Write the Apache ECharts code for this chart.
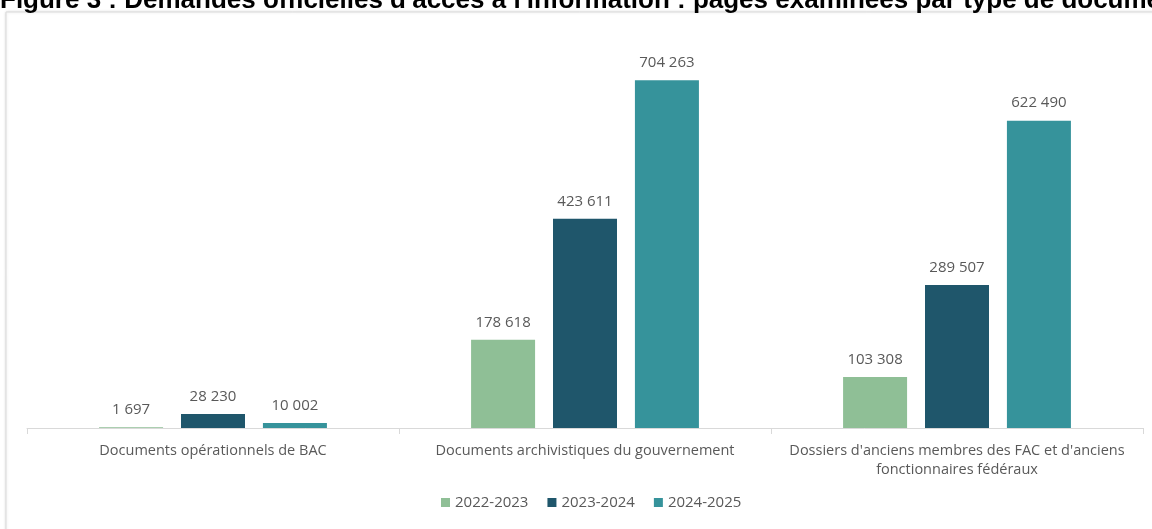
<!DOCTYPE html>
<html><head><meta charset="utf-8">
<script src="https://cdn.jsdelivr.net/npm/echarts@6/dist/echarts.min.js"></script>
<style>html,body{margin:0;padding:0;background:#fff}#c{width:1152px;height:529px}</style>
</head><body><div id="c"></div>
<script>
const categories = ["Documents opérationnels de BAC", "Documents archivistiques du gouvernement", "Dossiers d'anciens membres des FAC et d'anciens\nfonctionnaires fédéraux"];
const seriesNames = ["2022-2023", "2023-2024", "2024-2025"];
const v2022 = [1697, 178618, 103308];
const v2023 = [28230, 423611, 289507];
const v2024 = [10002, 704263, 622490];
const colors = ["#8fbf96", "#1f566b", "#36939b"];
const titleText = "Figure 3 : Demandes officielles d'accès à l'information : pages examinées par type de document";

const fmt = v => String(v).replace(/\B(?=(\d{3})+(?!\d))/g, " ");
const chart = echarts.init(document.getElementById('c'));
const font = "'Open Sans', Roboto, sans-serif";
const mk = (name, data, i) => ({
  name, type: 'bar', data, barWidth: 64, barGap: '28%',
  itemStyle: {color: colors[i]},
  label: {show: true, position: 'top', distance: 10, color: '#595959', fontSize: 15, fontFamily: font, formatter: p => fmt(p.value)}
});
chart.setOption({
  animation: false,
  textStyle: {fontFamily: font},
  graphic: [
    {type: 'rect', shape: {x: 6, y: 12, width: 1200, height: 600}, style: {fill: '#fff', stroke: '#d9d9d9', lineWidth: 1, shadowBlur: 3, shadowColor: 'rgba(0,0,0,0.12)'}, z: -10},
    {type: 'text', left: 0, top: -12, style: {text: titleText, font: "bold 26px 'Liberation Sans', Arial, sans-serif", fill: '#000'}, z: 10}
  ],
  grid: {left: 27, right: 9, top: 33, bottom: 101},
  legend: {bottom: 14, left: 436, itemWidth: 9, itemHeight: 9, itemGap: 19, icon: 'rect',
    textStyle: {color: '#595959', fontSize: 15, fontFamily: font}, data: seriesNames},
  xAxis: {type: 'category', data: categories,
    axisLine: {lineStyle: {color: '#d9d9d9', width: 1}},
    axisTick: {show: true, length: 6, lineStyle: {color: '#d9d9d9'}},
    axisLabel: {color: '#595959', fontSize: 14.5, fontFamily: font, margin: 13, lineHeight: 19, interval: 0}},
  yAxis: {type: 'value', min: 0, max: 800000, show: false, splitLine: {show: false}},
  series: [mk(seriesNames[0], v2022, 0), mk(seriesNames[1], v2023, 1), mk(seriesNames[2], v2024, 2)]
});
</script></body></html>
